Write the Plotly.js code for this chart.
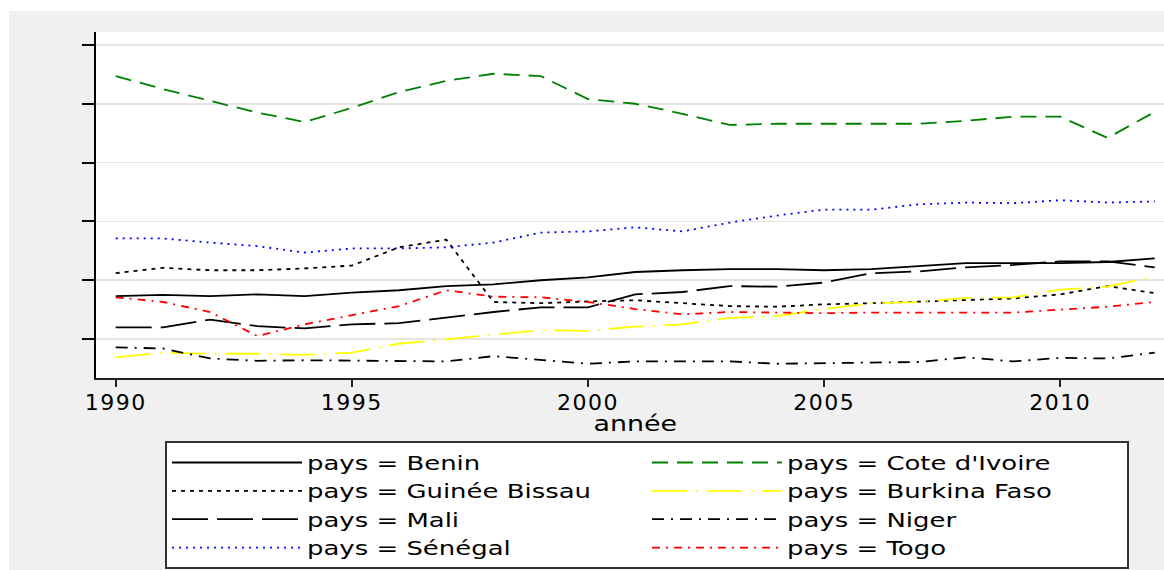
<!DOCTYPE html>
<html>
<head>
<meta charset="utf-8">
<script src="https://cdn.plot.ly/plotly-3.0.1.min.js"></script>
<style>
  html, body { margin: 0; padding: 0; background: #ffffff; }
  #chart { width: 1164px; height: 570px; }
  /* the original's lettering is drawn horizontally wide */
  #chart .legendtext { transform-box: fill-box; transform-origin: 0% 50%; transform: scaleX(1.33); }
  #chart .annotation-text { transform-box: fill-box; transform-origin: 50% 50%; transform: scaleX(1.22); }
  #chart .xtick text { letter-spacing: 1.5px; }
</style>
</head>
<body>
<div id="chart"></div>
<script>
// Years
const annees = [1990,1991,1992,1993,1994,1995,1996,1997,1998,1999,2000,2001,2002,2003,2004,2005,2006,2007,2008,2009,2010,2011,2012];

// Series (y-axis has no labels in the original)
const benin        = [17.3,17.5,17.3,17.6,17.3,17.9,18.3,19.0,19.3,20.0,20.5,21.4,21.7,21.9,21.9,21.7,21.9,22.4,22.9,22.9,22.9,23.1,23.7];
const coteIvoire   = [54.7,52.5,50.5,48.5,46.9,49.3,52.0,53.9,55.1,54.7,50.8,50.0,48.3,46.4,46.6,46.6,46.6,46.6,47.1,47.8,47.8,44.2,48.6];
const guineeBissau = [21.2,22.1,21.7,21.7,22.0,22.5,25.6,26.9,16.3,16.1,16.4,16.6,16.1,15.6,15.5,15.9,16.1,16.4,16.7,16.9,17.6,19.0,17.8];
const burkinaFaso  = [6.9,7.7,7.5,7.5,7.3,7.7,9.2,10.0,10.8,11.5,11.4,12.1,12.5,13.6,13.9,15.1,16.1,16.3,17.0,17.1,18.4,18.9,20.6];
const mali         = [12.0,12.0,13.3,12.2,11.8,12.5,12.7,13.7,14.6,15.4,15.4,17.6,18.0,19.0,18.9,19.6,21.2,21.5,22.2,22.6,23.2,23.2,22.2];
const niger        = [8.6,8.4,6.7,6.3,6.4,6.3,6.3,6.2,7.1,6.4,5.8,6.2,6.2,6.2,5.8,5.9,6.1,6.1,6.9,6.2,6.8,6.7,7.7];
const senegal      = [27.1,27.1,26.4,25.8,24.7,25.4,25.4,25.6,26.4,28.1,28.3,29.0,28.3,29.8,31.0,32.0,32.0,32.9,33.2,33.1,33.6,33.2,33.4];
const togo         = [17.1,16.3,14.6,10.5,12.5,14.1,15.6,18.3,17.2,17.1,16.3,15.1,14.2,14.6,14.5,14.4,14.5,14.5,14.4,14.5,15.0,15.5,16.3];

// Tick labels
const xTicks = [1990,1995,2000,2005,2010];
const xTickLabels = ['1990','1995','2000','2005','2010'];
const yTicks = [10,20,30,40,50,60];
const xTitle = 'année';

// Legend order (row-major for a 2-column legend)
const seriesList = [
  {name: 'pays = Benin',          y: benin,        color: '#000000', dash: 'solid'},
  {name: "pays = Cote d'Ivoire",  y: coteIvoire,   color: '#008000', dash: '16px,9px'},
  {name: 'pays = Guinée Bissau',  y: guineeBissau, color: '#000000', dash: '4px,5px'},
  {name: 'pays = Burkina Faso',   y: burkinaFaso,  color: '#ffff00', dash: '35px,9px,2px,9px'},
  {name: 'pays = Mali',           y: mali,         color: '#000000', dash: '36px,9px'},
  {name: 'pays = Niger',          y: niger,        color: '#000000', dash: '12px,7px,2px,7px'},
  {name: 'pays = Sénégal',        y: senegal,      color: '#0000ff', dash: '2px,5px'},
  {name: 'pays = Togo',           y: togo,         color: '#ff0000', dash: '8px,6px,2px,6px'}
];

const traces = seriesList.map(s => ({
  type: 'scatter',
  mode: 'lines',
  name: s.name,
  x: annees,
  y: s.y,
  line: {color: s.color, width: 1.8, dash: s.dash},
  hoverinfo: 'x+y+name'
}));

const FONT = 'DejaVu Sans, Verdana, sans-serif';

const layout = {
  width: 1164,
  height: 570,
  margin: {l: 96, r: 0, t: 32, b: 192, autoexpand: false},
  paper_bgcolor: '#f0f0f0',
  plot_bgcolor: '#ffffff',
  font: {family: FONT, color: '#000000', size: 22},
  showlegend: true,
  xaxis: {
    range: [1989.583, 2012.196],
    tickmode: 'array',
    tickvals: xTicks,
    ticktext: xTickLabels,
    ticks: 'outside',
    ticklen: 7,
    tickwidth: 2,
    tickcolor: '#222222',
    ticklabelstandoff: -3,
    showline: true,
    linecolor: '#222222',
    linewidth: 2,
    showgrid: false,
    zeroline: false,
    tickfont: {family: FONT, size: 22, color: '#000000'}
  },
  yaxis: {
    range: [3.38, 62.2],
    tickmode: 'array',
    tickvals: yTicks,
    showticklabels: false,
    ticks: 'outside',
    ticklen: 12,
    tickwidth: 2,
    tickcolor: '#000000',
    showline: true,
    linecolor: '#000000',
    linewidth: 2,
    showgrid: true,
    gridcolor: '#e4e4e4',
    gridwidth: 1.5,
    zeroline: false
  },
  annotations: [
    {text: xTitle, xref: 'paper', yref: 'paper', x: 0.5047, y: (378 - 423) / 346,
     xanchor: 'center', yanchor: 'middle', showarrow: false,
     font: {family: FONT, size: 22, color: '#000000'}}
  ],
  legend: {
    orientation: 'h',
    x: 0.0646,
    xanchor: 'left',
    y: -0.183,
    yanchor: 'top',
    bgcolor: '#ffffff',
    bordercolor: '#333333',
    borderwidth: 2,
    itemwidth: 130,
    entrywidth: 335,
    entrywidthmode: 'pixels',
    font: {family: FONT, size: 19.5, color: '#000000'},
    traceorder: 'normal',
    itemclick: false,
    itemdoubleclick: false
  },
  shapes: [
    {type: 'rect', xref: 'paper', yref: 'paper', x0: -0.2, x1: 1.05, y0: (378 - 11) / 346, y1: 1.2,
     fillcolor: '#ffffff', line: {width: 0}, layer: 'below'},
    {type: 'rect', xref: 'paper', yref: 'paper', x0: -0.2, x1: -0.0815, y0: -0.7, y1: 1.2,
     fillcolor: '#ffffff', line: {width: 0}, layer: 'below'}
  ]
};

Plotly.newPlot('chart', traces, layout, {displayModeBar: false, staticPlot: true});
</script>
</body>
</html>
